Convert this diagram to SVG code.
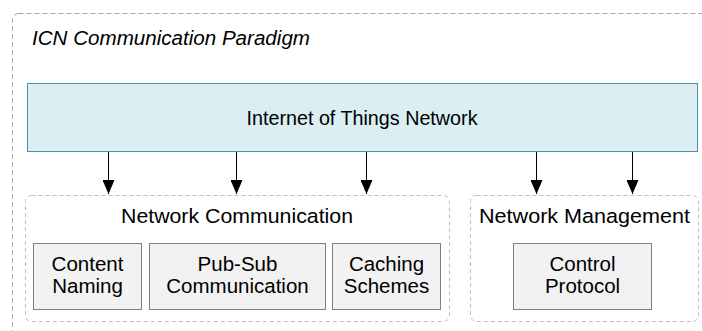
<svg xmlns="http://www.w3.org/2000/svg" width="702" height="331" viewBox="0 0 702 331">
<style>
text{font-family:"Liberation Sans",Arial,sans-serif;fill:#000}
.grp{fill:none;stroke:#BFBFBF;stroke-width:1;stroke-dasharray:4,3}
.box{fill:#F2F2F2;stroke:#7F7F7F;stroke-width:1}
.t{font-size:20.5px;text-anchor:middle}
.c{stroke:#000;stroke-width:1;fill:none}
</style>
<defs>
<marker id="ah" markerWidth="14" markerHeight="12" refX="14" refY="6" orient="auto" markerUnits="userSpaceOnUse" viewBox="0 0 14 12">
<path d="M0,0 L14,6 L0,12 Z" fill="#000"/>
</marker>
</defs>
<g id="paradigm">
<rect x="12.5" y="13.5" width="740" height="360" rx="6" fill="none" stroke="#A6A6A6" stroke-dasharray="5,3"/>
<text x="32" y="45" font-size="20" font-style="italic" textLength="278" lengthAdjust="spacingAndGlyphs">ICN Communication Paradigm</text>
</g>
<g id="iot">
<rect x="27.5" y="83.5" width="670" height="68" fill="#DAEEF3" stroke="#4E93A5"/>
<text x="362" y="125" font-size="19.5" text-anchor="middle" textLength="231" lengthAdjust="spacingAndGlyphs">Internet of Things Network</text>
</g>
<g id="netcomm">
<rect class="grp" x="25.5" y="195.5" width="424" height="126" rx="6"/>
<text class="t" x="237" y="223" textLength="232" lengthAdjust="spacingAndGlyphs">Network Communication</text>
</g>
<g id="netmgmt">
<rect class="grp" x="470.5" y="195.5" width="228" height="126" rx="6"/>
<text class="t" x="584.5" y="223" textLength="211" lengthAdjust="spacingAndGlyphs">Network Management</text>
</g>
<g id="naming">
<rect class="box" x="33.5" y="243.5" width="108" height="66"/>
<text class="t" x="87.5" y="271">Content</text>
<text class="t" x="87.5" y="293">Naming</text>
</g>
<g id="pubsub">
<rect class="box" x="149.5" y="243.5" width="176" height="66"/>
<text class="t" x="237.5" y="271">Pub-Sub</text>
<text class="t" x="237.5" y="293">Communication</text>
</g>
<g id="caching">
<rect class="box" x="332.5" y="243.5" width="108" height="66"/>
<text class="t" x="386.5" y="271">Caching</text>
<text class="t" x="386.5" y="293">Schemes</text>
</g>
<g id="control">
<rect class="box" x="513.5" y="243.5" width="138" height="66"/>
<text class="t" x="582.5" y="271">Control</text>
<text class="t" x="582.5" y="293">Protocol</text>
</g>
<g id="connectors">
<line class="c" x1="108.5" y1="152" x2="108.5" y2="194" marker-end="url(#ah)"/>
<line class="c" x1="236.5" y1="152" x2="236.5" y2="194" marker-end="url(#ah)"/>
<line class="c" x1="366.5" y1="152" x2="366.5" y2="194" marker-end="url(#ah)"/>
<line class="c" x1="536.5" y1="152" x2="536.5" y2="194" marker-end="url(#ah)"/>
<line class="c" x1="632.5" y1="152" x2="632.5" y2="194" marker-end="url(#ah)"/>
</g>
</svg>
